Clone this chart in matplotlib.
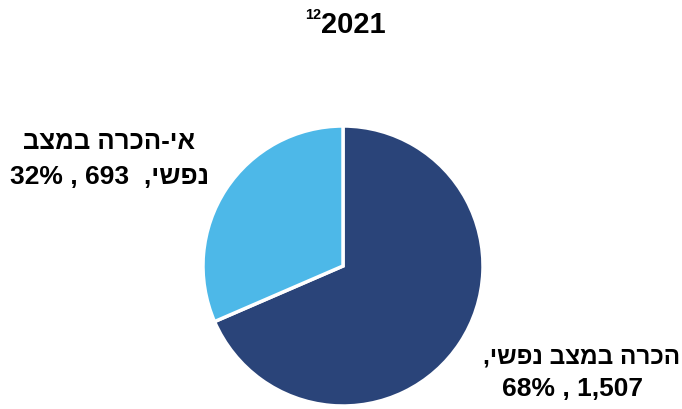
import matplotlib.pyplot as plt

# data
names = ["הכרה במצב נפשי,", "אי-הכרה במצב נפשי,"]
values = [1507, 693]
colors = ["#2A4479", "#4DB8E8"]
year = "2021"
note = "12"

plt.rcParams['font.family'] = ['Liberation Sans', 'DejaVu Sans']


def visual(s):
    # matplotlib has no bidi support: flip hebrew to visual order
    return s[::-1]


W, H = 682, 410
fig = plt.figure(figsize=(W / 100, H / 100), dpi=100)

cx, cy, r = 343, 267, 140
ax = fig.add_axes([(cx - r) / W, (H - cy - r) / H, 2 * r / W, 2 * r / H])
ax.pie(values, colors=colors, startangle=90, counterclock=False,
       wedgeprops=dict(edgecolor='white', linewidth=2.5))
ax.set_xlim(-1.0, 1.0)
ax.set_ylim(-1.0, 1.0)
ax.axis('off')

total = sum(values)
pcts = [round(v * 100 / total) for v in values]

# right label (dark slice)
fig.text(582 / W, 1 - 357 / H, visual(names[0]), ha='center', va='center',
         fontsize=17.5, fontweight='bold')
fig.text(572 / W, 1 - 389 / H, f"{pcts[0]}% , {values[0]:,}", ha='center',
         va='center', fontsize=19, fontweight='bold')

# left label (light slice)
first, last = names[1].rsplit(" ", 1)
fig.text(109 / W, 1 - 142 / H, visual(first), ha='center', va='center',
         fontsize=18.5, fontweight='bold')
fig.text(110 / W, 1 - 177 / H, f"{pcts[1]}% , {values[1]:,}  " + visual(last),
         ha='center', va='center', fontsize=19, fontweight='bold')

# title
fig.text(321 / W, 1 - 25 / H, year, ha='left', va='center',
         fontsize=21, fontweight='bold')
fig.text(321 / W, 1 - 15 / H, note, ha='right', va='center',
         fontsize=10.5, fontweight='bold')

fig.savefig('out.png', dpi=100)
